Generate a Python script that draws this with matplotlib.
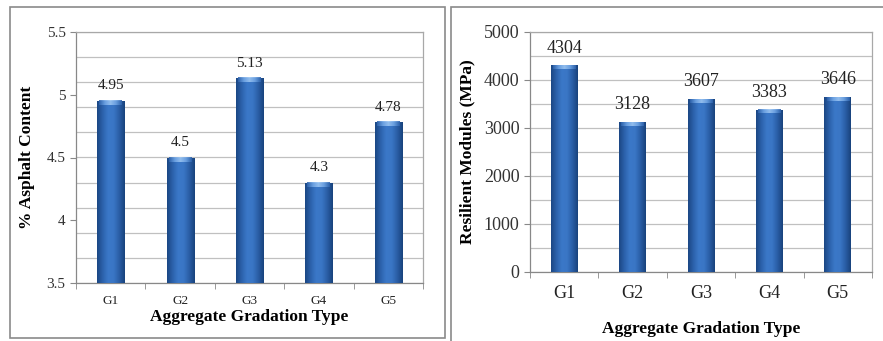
import matplotlib.pyplot as plt
import numpy as np
from matplotlib.colors import LinearSegmentedColormap
from matplotlib.patches import Rectangle

gradations = ["G1", "G2", "G3", "G4", "G5"]
asphalt_content = [4.95, 4.5, 5.13, 4.3, 4.78]
asphalt_labels = ["4.95", "4.5", "5.13", "4.3", "4.78"]
resilient_modulus = [4304, 3128, 3607, 3383, 3646]

W, H = 883, 341
plt.rcParams["font.family"] = ["Liberation Serif", "DejaVu Serif"]

bar_cmap = LinearSegmentedColormap.from_list(
    "bar", ["#1b4784", "#2c62ac", "#3b78c8", "#3a76c5", "#2a5ea6", "#19437d"])
cap_cmap = LinearSegmentedColormap.from_list(
    "cap", ["#2f64ad", "#6fa4e4", "#9cc6f2", "#6fa4e4", "#2f64ad"])


def px(x0, y0, x1, y1):
    # pixel box (top-left origin) -> figure fraction rect
    return [x0 / W, (H - y1) / H, (x1 - x0) / W, (y1 - y0) / H]


def shaded_bars(ax, values, ymin, ymax):
    bars = ax.bar(range(len(values)), values, width=0.39, bottom=0,
                  color="none", edgecolor="none", zorder=3)
    grad = np.linspace(0, 1, 64).reshape(1, -1)
    cap_h = (ymax - ymin) * 0.016
    for b in bars:
        x0 = b.get_x()
        x1 = x0 + b.get_width()
        top = b.get_height()
        img = ax.imshow(grad, cmap=bar_cmap, aspect="auto",
                        extent=(x0, x1, ymin, top), zorder=3)
        img.set_clip_path(b)
        ax.imshow(grad, cmap=cap_cmap, aspect="auto", alpha=0.9,
                  extent=(x0 + 0.03, x1 - 0.03, top - cap_h, top), zorder=4)
    return bars


def style_axes(ax, ymin, ymax, grid_step, ytick_step, xtick_fs, ytick_fs):
    ax.set_xlim(-0.5, len(gradations) - 0.5)
    ax.set_ylim(ymin, ymax)
    for y in np.arange(ymin, ymax + 1e-9, grid_step):
        ax.axhline(y, color="#c0c0c0", lw=0.9, zorder=1)
    ax.set_yticks(np.arange(ymin, ymax + 1e-9, ytick_step))
    ax.set_xticks(range(len(gradations)))
    ax.set_xticklabels(gradations)
    ax.set_xticks(np.arange(-0.5, len(gradations), 1.0), minor=True)
    ax.tick_params(axis="x", which="major", length=0, pad=9,
                   labelsize=xtick_fs, colors="#222222")
    ax.tick_params(axis="x", which="minor", length=4, color="#888888",
                   direction="out")
    ax.tick_params(axis="y", length=4, color="#888888", labelsize=ytick_fs,
                   labelcolor="#333333")
    for s in ax.spines.values():
        s.set_color("#a8a8a8")
        s.set_linewidth(0.9)
    ax.spines["left"].set_color("#888888")
    ax.spines["bottom"].set_color("#888888")


fig = plt.figure(figsize=(W / 100, H / 100), dpi=100)

# panel frames
fig.add_artist(Rectangle((10 / W, (H - 338) / H), (445 - 10) / W, (338 - 7) / H,
                         transform=fig.transFigure, fill=False,
                         edgecolor="#8a8a8a", lw=1.2))
fig.add_artist(Rectangle((451 / W, -0.01), (W + 5 - 451) / W, (H - 7) / H + 0.01,
                         transform=fig.transFigure, fill=False,
                         edgecolor="#8a8a8a", lw=1.2))

# left: asphalt content
ax1 = fig.add_axes(px(76, 32, 423, 283))
style_axes(ax1, 3.5, 5.5, 0.2, 0.5, 9.5, 11)
ax1.set_yticklabels(["3.5", "4", "4.5", "5", "5.5"])
shaded_bars(ax1, asphalt_content, 3.5, 5.5)
for i, (v, lab) in enumerate(zip(asphalt_content, asphalt_labels)):
    ax1.text(i, v + 0.07, lab, ha="center", va="bottom", fontsize=11,
             color="#222222", zorder=5)
ax1.set_ylabel("% Asphalt Content", fontsize=12.5, fontweight="bold", labelpad=8)
ax1.set_xlabel("Aggregate Gradation Type", fontsize=12.5, fontweight="bold",
               labelpad=1)

# right: resilient modulus
ax2 = fig.add_axes(px(530, 32, 872, 272))
style_axes(ax2, 0, 5000, 500, 1000, 13, 13)
shaded_bars(ax2, resilient_modulus, 0, 5000)
for i, v in enumerate(resilient_modulus):
    ax2.text(i, v + 180, str(v), ha="center", va="bottom", fontsize=13,
             color="#222222", zorder=5)
ax2.set_ylabel("Resilient Modules (MPa)", fontsize=12.5, fontweight="bold",
               labelpad=6)
ax2.set_xlabel("Aggregate Gradation Type", fontsize=12.5, fontweight="bold",
               labelpad=14)

fig.savefig("out.png", dpi=100)
